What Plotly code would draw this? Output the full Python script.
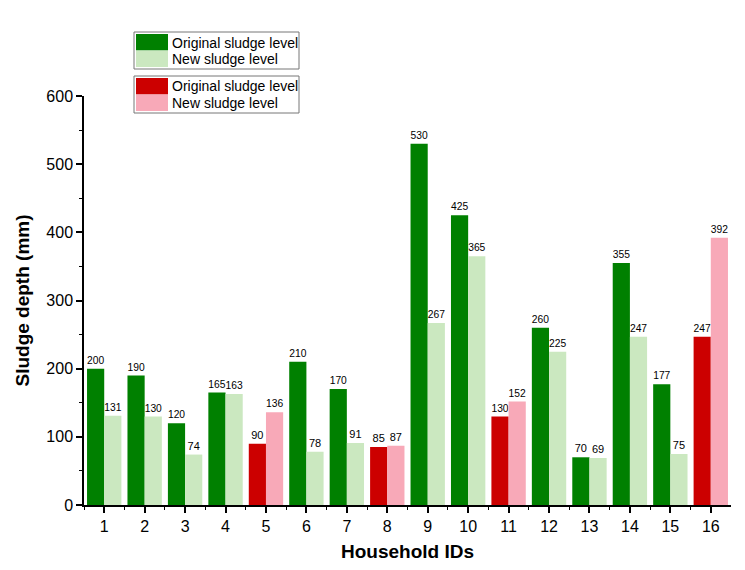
import plotly.graph_objects as go

households = list(range(1, 17))
original = [200, 190, 120, 165, 90, 210, 170, 85, 530, 425, 130, 260, 70, 355, 177, 247]
new = [131, 130, 74, 163, 136, 78, 91, 87, 267, 365, 152, 225, 69, 247, 75, 392]
red_ids = [5, 8, 11, 16]
legend_labels = ["Original sludge level", "New sludge level"]

green_x = [h for h in households if h not in red_ids]
red_x = [h for h in households if h in red_ids]
green_orig = [original[h - 1] for h in green_x]
green_new = [new[h - 1] for h in green_x]
red_orig = [original[h - 1] for h in red_x]
red_new = [new[h - 1] for h in red_x]

C_GREEN, C_LGREEN, C_RED, C_PINK = "#008000", "#cbe8c0", "#cc0000", "#f8a9b8"

FONT = "Liberation Sans, Arial, sans-serif"
txtfont = dict(family=FONT, size=11, color="black")

fig = go.Figure()
for xs, ys, col, grp, lab in [
    (green_x, green_orig, C_GREEN, "orig", legend_labels[0]),
    (green_x, green_new, C_LGREEN, "new", legend_labels[1]),
    (red_x, red_orig, C_RED, "orig", legend_labels[0]),
    (red_x, red_new, C_PINK, "new", legend_labels[1]),
]:
    fig.add_bar(x=xs, y=ys, name=lab, marker_color=col, marker_line_width=0,
                offsetgroup=grp, text=ys, textposition="outside", textfont=txtfont,
                cliponaxis=False, showlegend=False)

# Hand-drawn legend boxes (paper coordinates derived from pixel layout)
L, R, T, B, W, H = 84, 14, 96, 65, 745, 570
pw, ph = W - L - R, H - T - B
def px(x):
    return (x - L) / pw
def py(y):
    return (H - B - y) / ph

shapes, annos = [], []
boxes = [
    (32, [C_GREEN, C_LGREEN]),
    (76, [C_RED, C_PINK]),
]
for top, cols in boxes:
    shapes.append(dict(type="rect", xref="paper", yref="paper",
                       x0=px(134), x1=px(299), y0=py(top), y1=py(top + 37),
                       line=dict(color="#777", width=1), fillcolor="white", layer="above"))
    for i, (col, lab) in enumerate(zip(cols, legend_labels)):
        y0 = top + 2 + i * 16.5
        shapes.append(dict(type="rect", xref="paper", yref="paper",
                           x0=px(136), x1=px(168), y0=py(y0), y1=py(y0 + 16.5),
                           line=dict(width=0), fillcolor=col, layer="above"))
        annos.append(dict(xref="paper", yref="paper", x=px(170), y=py(y0 + 8.5),
                          text=lab, showarrow=False, xanchor="left", yanchor="middle",
                          font=dict(family=FONT, size=14, color="black")))

fig.update_layout(
    width=W, height=H,
    margin=dict(l=L, r=R, t=T, b=B),
    paper_bgcolor="white", plot_bgcolor="white",
    barmode="group", bargap=0.15, bargroupgap=0,
    font=dict(family=FONT, size=16, color="black"),
    shapes=shapes, annotations=annos,
    showlegend=False,
)
fig.update_xaxes(range=[0.5, 16.5], tickmode="array", tickvals=households,
                 ticktext=[str(h) for h in households],
                 showline=True, linecolor="black", linewidth=1.5,
                 ticks="outside", ticklen=6, tickwidth=1.5, tickcolor="black",
                 minor=dict(ticks="outside", ticklen=3, tickwidth=1.2, tickcolor="black",
                            tickvals=[h + 0.5 for h in households[:-1]] + [0.5]),
                 showgrid=False, zeroline=False,
                 title=dict(text="<b>Household IDs</b>", font=dict(size=19), standoff=11),
                 tickfont=dict(size=16))
fig.update_yaxes(range=[0, 600], dtick=100,
                 showline=True, linecolor="black", linewidth=1.5,
                 ticks="outside", ticklen=6, tickwidth=1.5, tickcolor="black",
                 minor=dict(ticks="outside", ticklen=3, tickwidth=1.2, tickcolor="black", dtick=50),
                 showgrid=False, zeroline=False,
                 title=dict(text="<b>Sludge depth (mm)</b>", font=dict(size=19), standoff=12),
                 tickfont=dict(size=16))

fig.write_html("out.html")
